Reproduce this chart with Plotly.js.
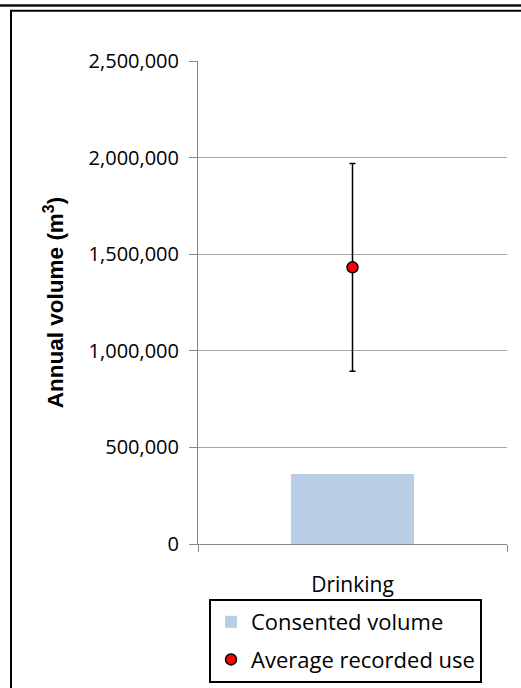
<!DOCTYPE html>
<html>
<head>
<meta charset="utf-8">
<script src="https://cdn.plot.ly/plotly-3.0.1.min.js"></script>
<style>
html, body { margin: 0; padding: 0; background: #fff; }
#chart { width: 521px; height: 688px; }
</style>
</head>
<body>
<div id="chart"></div>
<script>
// Data
const categories = ["Drinking"];
const consentedVolume = [360000];
const averageRecordedUse = [1432000];
const recordedUseError = [538000];
const yTickValues = [0, 500000, 1000000, 1500000, 2000000, 2500000];
const yTickLabels = ["0", "500,000", "1,000,000", "1,500,000", "2,000,000", "2,500,000"];

const W = 521, H = 688;
const L = 198, R = 507, T = 61, B = 544;
const MB = 2;                       // bottom margin of the paper area
const paperBottom = H - MB;
const paperH = paperBottom - T;
const px = x => (x - L) / (R - L);
const py = y => (paperBottom - y) / paperH;

const traces = [
  {
    type: "bar",
    name: "Consented volume",
    x: categories,
    y: consentedVolume,
    width: 0.4,
    marker: { color: "#b9cde5", line: { width: 0 } },
    legendgroup: "a",
    hoverinfo: "skip"
  },
  {
    type: "scatter",
    mode: "markers",
    name: "Average recorded use",
    x: categories,
    y: averageRecordedUse,
    marker: { color: "#ff0000", size: 11, line: { color: "#000000", width: 1.5 } },
    error_y: { type: "data", array: recordedUseError, symmetric: true, color: "#000000", thickness: 1.5, width: 3 },
    legendgroup: "b",
    hoverinfo: "skip"
  }
];

const layout = {
  width: W,
  height: H,
  margin: { l: L, r: W - R, t: T, b: MB, pad: 0 },
  paper_bgcolor: "#ffffff",
  plot_bgcolor: "#ffffff",
  showlegend: true,
  bargap: 0,
  xaxis: {
    type: "category",
    tickson: "boundaries",
    ticks: "outside",
    ticklen: 7,
    tickcolor: "#888888",
    showline: true,
    linecolor: "#888888",
    linewidth: 1,
    showgrid: false,
    zeroline: false,
    automargin: false,
    ticklabelstandoff: 22,
    tickfont: { family: "Open Sans", size: 21, color: "#000000" },
    fixedrange: true
  },
  yaxis: {
    domain: [py(B), 1],
    range: [0, 2500000],
    tickvals: yTickValues,
    ticktext: yTickLabels,
    ticks: "outside",
    ticklen: 8,
    tickcolor: "#888888",
    showline: true,
    linecolor: "#888888",
    linewidth: 1,
    showgrid: true,
    gridcolor: "#a6a6a6",
    gridwidth: 1,
    zeroline: false,
    automargin: false,
    ticklabelstandoff: 6,
    tickfont: { family: "Open Sans", size: 20, color: "#000000" },
    title: {
      text: "Annual volume (m<sup>3</sup>)",
      font: { family: "Liberation Sans, Arial", size: 22.5, color: "#000000", weight: "bold" },
      standoff: 18
    },
    fixedrange: true
  },
  legend: {
    x: px(209),
    y: py(599),
    xanchor: "left",
    yanchor: "top",
    bgcolor: "#ffffff",
    bordercolor: "#000000",
    borderwidth: 2,
    traceorder: "grouped",
    tracegroupgap: 6,
    font: { family: "Open Sans", size: 22, color: "#000000" }
  },
  shapes: [
    { type: "line", xref: "paper", yref: "paper", x0: px(0), x1: px(W), y0: py(5.5), y1: py(5.5), line: { color: "#111111", width: 2.5 } },
    { type: "line", xref: "paper", yref: "paper", x0: px(10), x1: px(W), y0: py(10.8), y1: py(10.8), line: { color: "#000000", width: 2 } },
    { type: "line", xref: "paper", yref: "paper", x0: px(11), x1: px(11), y0: py(10), y1: py(H), line: { color: "#000000", width: 2 } }
  ]
};

Plotly.newPlot("chart", traces, layout, { displayModeBar: false, staticPlot: true });
</script>
</body>
</html>
